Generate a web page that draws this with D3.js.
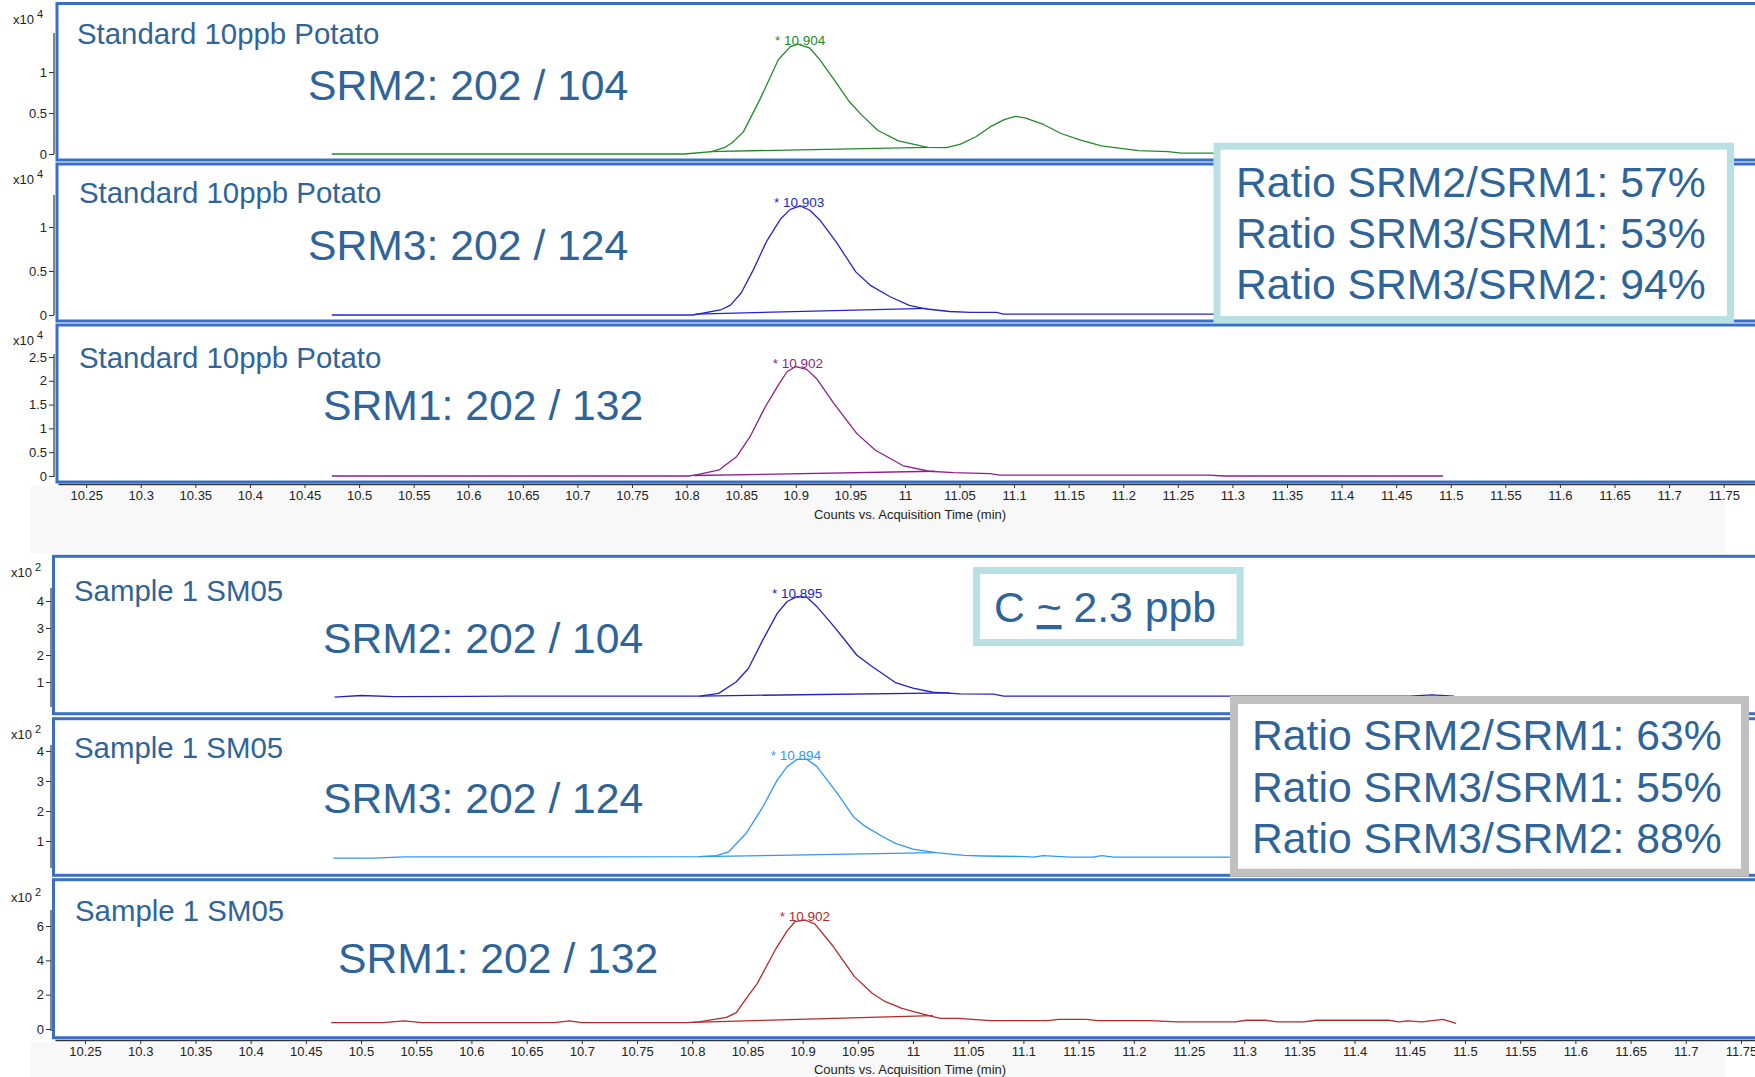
<!DOCTYPE html>
<html><head><meta charset="utf-8">
<script src="https://cdn.jsdelivr.net/npm/d3@7"></script>
<style>
body{margin:0;background:#fff;}
svg{display:block;font-family:"Liberation Sans",Arial,sans-serif;}
</style>
</head><body>
<svg id="c" width="1755" height="1077"></svg>
<script>
// ---------- DATA ----------
const xTickLabels = ["10.25","10.3","10.35","10.4","10.45","10.5","10.55","10.6","10.65","10.7","10.75","10.8","10.85","10.9","10.95","11","11.05","11.1","11.15","11.2","11.25","11.3","11.35","11.4","11.45","11.5","11.55","11.6","11.65","11.7","11.75"];
const xTicks = xTickLabels.map(Number);
const xAxisTitle = "Counts vs. Acquisition Time (min)";

// Standard 10ppb Potato (counts x10^4)
const stdSrm2 = [[10.475,0],[10.798,0],[10.823,0.03],[10.835,0.08],[10.842,0.14],[10.852,0.27],[10.867,0.66],[10.884,1.15],[10.895,1.31],[10.902,1.34],[10.913,1.29],[10.922,1.15],[10.937,0.87],[10.949,0.64],[10.960,0.48],[10.975,0.29],[10.994,0.16],[11.021,0.08],[11.038,0.077],[11.051,0.12],[11.065,0.21],[11.078,0.33],[11.091,0.42],[11.101,0.46],[11.110,0.44],[11.127,0.36],[11.143,0.25],[11.161,0.17],[11.180,0.10],[11.214,0.04],[11.241,0.03],[11.253,0.01],[11.49,0.01]];
const stdSrm2Base = [[10.821,0.03],[11.021,0.08]];
const stdSrm3 = [[10.475,0],[10.806,0],[10.831,0.057],[10.840,0.11],[10.850,0.25],[10.861,0.51],[10.873,0.83],[10.886,1.09],[10.895,1.2],[10.904,1.24],[10.913,1.19],[10.922,1.08],[10.937,0.83],[10.955,0.49],[10.968,0.34],[10.986,0.21],[11.004,0.11],[11.020,0.068],[11.041,0.04],[11.060,0.03],[11.084,0.03],[11.090,0.01],[11.49,0.01]];
const stdSrm3Base = [[10.808,0.01],[11.020,0.076]];
const stdSrm1 = [[10.475,0],[10.802,0],[10.811,0.035],[10.830,0.13],[10.846,0.41],[10.858,0.82],[10.872,1.45],[10.884,1.91],[10.892,2.19],[10.900,2.30],[10.910,2.24],[10.919,2.05],[10.935,1.52],[10.956,0.89],[10.973,0.54],[10.998,0.22],[11.022,0.10],[11.045,0.07],[11.078,0.05],[11.087,0.02],[11.278,0.02],[11.293,0],[11.493,0]];
const stdSrm1Base = [[10.807,0.01],[11.027,0.10]];

// Sample 1 SM05 (counts x10^2)
const smpSrm2 = [[10.476,0.44],[10.50,0.50],[10.53,0.46],[10.60,0.47],[10.70,0.48],[10.807,0.48],[10.824,0.58],[10.840,1.01],[10.851,1.51],[10.864,2.56],[10.877,3.54],[10.886,3.98],[10.895,4.16],[10.904,4.14],[10.913,3.79],[10.926,3.17],[10.937,2.62],[10.949,2.0],[10.961,1.63],[10.984,0.98],[11.000,0.77],[11.018,0.62],[11.043,0.56],[11.073,0.55],[11.082,0.48],[11.40,0.48],[11.45,0.48],[11.47,0.52],[11.49,0.48]];
const smpSrm2Base = [[10.807,0.48],[11.033,0.60]];
const smpSrm3 = [[10.475,0.43],[10.51,0.43],[10.54,0.47],[10.70,0.47],[10.806,0.48],[10.822,0.51],[10.833,0.64],[10.849,1.26],[10.864,2.14],[10.877,3.03],[10.886,3.48],[10.895,3.72],[10.904,3.72],[10.913,3.48],[10.931,2.61],[10.946,1.81],[10.955,1.53],[10.970,1.2],[10.984,0.92],[11.000,0.73],[11.021,0.61],[11.046,0.52],[11.064,0.50],[11.103,0.48],[11.109,0.46],[11.118,0.51],[11.130,0.49],[11.142,0.46],[11.163,0.46],[11.171,0.51],[11.182,0.46],[11.49,0.46]];
const smpSrm3Base = [[10.806,0.48],[11.021,0.61]];
const smpSrm1 = [[10.473,0.37],[10.52,0.37],[10.539,0.47],[10.555,0.37],[10.675,0.37],[10.689,0.47],[10.70,0.37],[10.796,0.37],[10.806,0.42],[10.831,0.68],[10.840,0.95],[10.848,1.69],[10.859,2.66],[10.876,4.70],[10.886,5.72],[10.893,6.25],[10.902,6.35],[10.911,6.12],[10.928,4.79],[10.947,3.05],[10.963,2.08],[10.975,1.59],[10.990,1.20],[11.004,0.95],[11.018,0.72],[11.025,0.62],[11.042,0.62],[11.054,0.56],[11.070,0.49],[11.122,0.49],[11.132,0.56],[11.157,0.56],[11.167,0.49],[11.215,0.49],[11.239,0.41],[11.292,0.41],[11.302,0.51],[11.319,0.51],[11.330,0.41],[11.354,0.41],[11.365,0.51],[11.431,0.51],[11.440,0.41],[11.448,0.47],[11.461,0.41],[11.480,0.56],[11.492,0.33]];
const smpSrm1Base = [[10.80,0.39],[11.018,0.78]];

const yTicksStd12 = [0,0.5,1];
const yTicksStd1 = [0,0.5,1,1.5,2,2.5];
const yTicksSmp23 = [1,2,3,4];
const yTicksSmp1 = [0,2,4,6];

const peakLabels = ["10.904","10.903","10.902","10.895","10.894","10.902"];
const panelTitles = ["Standard 10ppb Potato","Standard 10ppb Potato","Standard 10ppb Potato","Sample 1 SM05","Sample 1 SM05","Sample 1 SM05"];
const srmLabels = ["SRM2: 202 / 104","SRM3: 202 / 124","SRM1: 202 / 132","SRM2: 202 / 104","SRM3: 202 / 124","SRM1: 202 / 132"];
const exponents = ["4","4","4","2","2","2"];
const ratiosStd = ["Ratio SRM2/SRM1: 57%","Ratio SRM3/SRM1: 53%","Ratio SRM3/SRM2: 94%"];
const ratiosSmp = ["Ratio SRM2/SRM1: 63%","Ratio SRM3/SRM1: 55%","Ratio SRM3/SRM2: 88%"];
const concParts = ["C ","~"," 2.3 ppb"];

// ---------- LAYOUT ----------
const W = 1755, H = 1077;
const textBlue = "#2f6499";
const frameBlue = "#3a6fc7";
const bigFont = "42.7px";
const titleFont = "29.4px";
const groups = [
  {xDom:[10.2242,11.7787], xRange:[58,W], axisY:484, titleY:519, frameX:57, yAxisX:54, band:[486,553]},
  {xDom:[10.2228,11.7627], xRange:[55,W], axisY:1040, titleY:1074, frameX:53.5, yAxisX:51, band:[1042,1077]}
];
const panels = [
  {g:0, trace:stdSrm2, base:stdSrm2Base, color:"#23892a", ticks:yTicksStd12, frame:[3.5,160], y0:154, vref:1, yref:72, axTop:33, axBot:154, expY:24, tx:77, ty:44, sx:308, sy:100},
  {g:0, trace:stdSrm3, base:stdSrm3Base, color:"#2424cc", ticks:yTicksStd12, frame:[164,321], y0:315, vref:1, yref:227, axTop:195, axBot:315, expY:184, tx:79, ty:203, sx:308, sy:260},
  {g:0, trace:stdSrm1, base:stdSrm1Base, color:"#8c1f8c", ticks:yTicksStd1, frame:[325,482], y0:476, vref:2.5, yref:357, axTop:354, axBot:477, expY:345, tx:79, ty:368, sx:323, sy:420},
  {g:1, trace:smpSrm2, base:smpSrm2Base, color:"#2222c4", ticks:yTicksSmp23, frame:[556.3,713.7], y0:709, vref:4, yref:601, axTop:588, axBot:707, expY:577, tx:74, ty:601, sx:323, sy:653},
  {g:1, trace:smpSrm3, base:smpSrm3Base, color:"#3396f5", ticks:yTicksSmp23, frame:[718.7,875.3], y0:871, vref:4, yref:751, axTop:745, axBot:868, expY:739, tx:74, ty:758, sx:323, sy:813},
  {g:1, trace:smpSrm1, base:smpSrm1Base, color:"#b52a2a", ticks:yTicksSmp1, frame:[879.7,1037.7], y0:1029, vref:6, yref:926, axTop:910, axBot:1031, expY:902, tx:75, ty:921, sx:338, sy:973}
];

const svg = d3.select("#c");
svg.append("rect").attr("width",W).attr("height",H).attr("fill","#fff");

const xScales = groups.map(g => d3.scaleLinear().domain(g.xDom).range(g.xRange));

// light bands (background photo areas)
groups.forEach(g => {
  svg.append("rect").attr("x",30).attr("y",g.band[0]).attr("width",W-60).attr("height",g.band[1]-g.band[0]).attr("fill","#f8f8f8");
});

// panels
panels.forEach((p,i) => {
  const g = groups[p.g];
  const x = xScales[p.g];
  const y = d3.scaleLinear().domain([0,p.vref]).range([p.y0,p.yref]);
  const pg = svg.append("g");

  pg.append("rect").attr("x",g.frameX).attr("y",p.frame[0]).attr("width",W+20-g.frameX).attr("height",p.frame[1]-p.frame[0])
    .attr("fill","#fff").attr("stroke",frameBlue).attr("stroke-width",3);

  const ax = pg.append("g").attr("transform",`translate(${g.yAxisX},0)`)
    .call(d3.axisLeft(y).tickValues(p.ticks).tickSize(5).tickPadding(2).tickFormat(d3.format("~g")));
  ax.select(".domain").remove();
  ax.selectAll(".tick line").attr("stroke","#333");
  ax.selectAll(".tick text").attr("fill","#222").style("font-size","13px").style("font-family","'Liberation Sans',Arial,sans-serif");
  pg.append("line").attr("x1",g.yAxisX).attr("x2",g.yAxisX).attr("y1",p.axTop).attr("y2",p.axBot).attr("stroke","#444").attr("stroke-width",1.3);

  const ex = pg.append("text").attr("x",p.g===0?13:11).attr("y",p.expY).attr("fill","#222").style("font-size","13px").text("x10");
  ex.append("tspan").attr("dx",3).attr("dy",-6).style("font-size","11px").text(exponents[i]);

  pg.append("text").attr("x",p.tx).attr("y",p.ty).attr("fill",textBlue).style("font-size",titleFont).text(panelTitles[i]);
  pg.append("text").attr("x",p.sx).attr("y",p.sy).attr("fill",textBlue).style("font-size",bigFont).text(srmLabels[i]);

  const line = d3.line().x(d=>x(d[0])).y(d=>y(d[1]));
  pg.append("path").datum(p.trace).attr("d",line).attr("fill","none").attr("stroke",p.color).attr("stroke-width",1.3).attr("stroke-linejoin","round");
  pg.append("path").datum(p.base).attr("d",line).attr("fill","none").attr("stroke",p.color).attr("stroke-width",1.3);

  const maxV = d3.max(p.trace, d=>d[1]);
  pg.append("text").attr("x",x(+peakLabels[i])).attr("y",y(maxV)+1).attr("text-anchor","middle")
    .attr("fill",p.color).style("font-size","13.5px").text("* " + peakLabels[i]);
});

// x axes
groups.forEach((g,gi) => {
  const x = xScales[gi];
  const ax = svg.append("g").attr("transform",`translate(0,${g.axisY})`)
    .call(d3.axisBottom(x).tickValues(xTicks).tickSize(4).tickSizeOuter(0).tickPadding(3).tickFormat((d,k)=>xTickLabels[k]));
  ax.select(".domain").attr("stroke","#333").attr("stroke-width",1.5);
  ax.selectAll(".tick line").attr("stroke","#333");
  ax.selectAll(".tick text").attr("fill","#222").style("font-size","13px").style("font-family","'Liberation Sans',Arial,sans-serif");
  svg.append("text").attr("x",910).attr("y",g.titleY).attr("text-anchor","middle").attr("fill","#222").style("font-size","13px").text(xAxisTitle);
});

// annotation boxes
function box(x0,y0,x1,y1,bw,color){
  svg.append("rect").attr("x",x0+bw/2).attr("y",y0+bw/2).attr("width",x1-x0-bw).attr("height",y1-y0-bw)
    .attr("fill","#fff").attr("stroke",color).attr("stroke-width",bw);
}
box(1213.5,142.7,1734,323,7,"#b9e0e3");
ratiosStd.forEach((t,k)=>{
  svg.append("text").attr("x",1236).attr("y",197+k*51).attr("fill",textBlue).style("font-size",bigFont).text(t);
});
box(1230,696,1749,876.7,8,"#c0c0c0");
ratiosSmp.forEach((t,k)=>{
  svg.append("text").attr("x",1252).attr("y",750+k*51.5).attr("fill",textBlue).style("font-size",bigFont).text(t);
});
box(973,567,1243.6,646,7,"#b9e0e3");
const ct = svg.append("text").attr("x",994).attr("y",622).attr("fill",textBlue).style("font-size",bigFont);
concParts.forEach((t,k)=>{
  const ts = ct.append("tspan").text(t);
  if(k===1) ts.style("text-decoration","underline");
});
</script>
</body></html>
